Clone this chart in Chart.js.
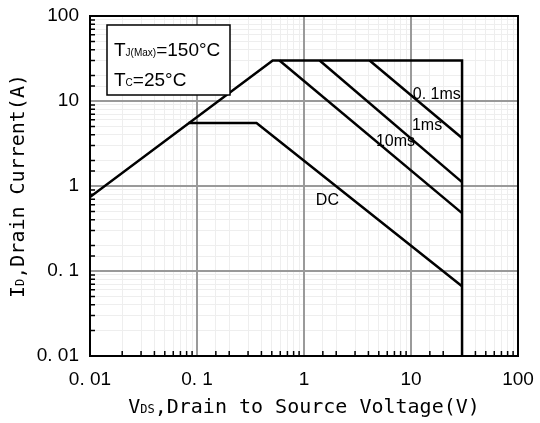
<!DOCTYPE html>
<html>
<head>
<meta charset="utf-8">
<title>Safe Operating Area</title>
<script src="https://cdn.jsdelivr.net/npm/chart.js@4.4.1/dist/chart.umd.min.js"></script>
<style>
  html, body { margin: 0; padding: 0; background: #fff; }
  #wrap { width: 540px; height: 423px; }
</style>
</head>
<body>
<div id="wrap"><canvas id="soaChart"></canvas></div>
<script>
// axis ticks
const xTickValues = [0.01, 0.1, 1, 10, 100];
const xTickLabels = ["0. 01", "0. 1", "1", "10", "100"];
const yTickValues = [0.01, 0.1, 1, 10, 100];
const yTickLabels = ["0. 01", "0. 1", "1", "10", "100"];

// outer limit: Rds(on) line, 30A max, 30V max
const limitV = [0.01, 0.51, 30, 30];
const limitI = [0.74, 30, 30, 0.01];

// pulse curves
const dcV = [0.083, 0.36, 30];
const dcI = [5.5, 5.5, 0.066];
const ms10V = [0.59, 30];
const ms10I = [30, 0.48];
const ms1V = [1.4, 30];
const ms1I = [30, 1.11];
const ms01V = [4.1, 30];
const ms01I = [30, 3.67];

// curve names and where they sit (V, A)
const curveNames = ["0. 1ms", "1ms", "10ms", "DC"];
const curveNameV = [10.4, 10.2, 4.7, 1.29];
const curveNameI = [11.8, 5.1, 3.3, 0.68];

const tickFont = "'Liberation Sans Narrow', 'Liberation Sans', sans-serif";
const titleFont = "'DejaVu Sans Mono', monospace";
const majorGrid = "#9a9a9a";
const minorGrid = "#eeeeee";

function toPoints(xs, ys) {
  return xs.map((x, i) => ({ x: x, y: ys[i] }));
}

function isDecade(v) {
  const l = Math.log10(v);
  return Math.abs(l - Math.round(l)) < 1e-6;
}

function lineSet(xs, ys) {
  return {
    data: toPoints(xs, ys),
    showLine: true,
    borderColor: "#000",
    borderWidth: 2.5,
    pointRadius: 0,
    fill: false,
  };
}

// draws text made of pieces, some smaller (subscripts)
function drawPieces(ctx, pieces, x, y, align) {
  let total = 0;
  pieces.forEach(p => { ctx.font = p.font; total += ctx.measureText(p.text).width; });
  let cx = align === "center" ? x - total / 2 : x;
  pieces.forEach(p => {
    ctx.font = p.font;
    ctx.fillText(p.text, cx, y);
    cx += ctx.measureText(p.text).width;
  });
}

const extrasPlugin = {
  id: "extras",
  beforeDatasetsDraw(chart) {
    // vertical decade lines again, so the light horizontal ones don't cut them
    const ctx = chart.ctx;
    const area = chart.chartArea;
    const xs = chart.scales.x;
    ctx.save();
    ctx.strokeStyle = majorGrid;
    ctx.lineWidth = 2;
    ctx.beginPath();
    xs.ticks.forEach(t => {
      if (!isDecade(t.value)) return;
      const px = xs.getPixelForValue(t.value);
      ctx.moveTo(px, area.top);
      ctx.lineTo(px, area.bottom);
    });
    ctx.stroke();
    ctx.restore();
  },
  afterDraw(chart) {
    const ctx = chart.ctx;
    const area = chart.chartArea;
    const xs = chart.scales.x;
    const ys = chart.scales.y;
    ctx.save();

    // frame
    ctx.strokeStyle = "#000";
    ctx.lineWidth = 2;
    ctx.strokeRect(area.left, area.top, area.right - area.left, area.bottom - area.top);

    // small inner ticks on bottom and left
    ctx.lineWidth = 1.5;
    ctx.beginPath();
    xs.ticks.forEach(t => {
      if (isDecade(t.value)) return;
      const px = xs.getPixelForValue(t.value);
      ctx.moveTo(px, area.bottom);
      ctx.lineTo(px, area.bottom - 5);
    });
    ys.ticks.forEach(t => {
      if (isDecade(t.value)) return;
      const py = ys.getPixelForValue(t.value);
      ctx.moveTo(area.left, py);
      ctx.lineTo(area.left + 5, py);
    });
    ctx.stroke();

    // condition box
    ctx.fillStyle = "#fff";
    ctx.fillRect(107, 25, 123, 70);
    ctx.lineWidth = 1.5;
    ctx.strokeRect(107, 25, 123, 70);
    ctx.fillStyle = "#000";
    ctx.textBaseline = "alphabetic";
    ctx.textAlign = "left";
    const big = "19px 'Liberation Sans', sans-serif";
    const small = "10px 'Liberation Sans', sans-serif";
    drawPieces(ctx, [
      { text: "T", font: big }, { text: "J(Max)", font: small }, { text: "=150°C", font: big }
    ], 114, 56, "left");
    drawPieces(ctx, [
      { text: "T", font: big }, { text: "C", font: small }, { text: "=25°C", font: big }
    ], 114, 86, "left");

    // curve names
    ctx.font = "16px " + tickFont;
    ctx.textBaseline = "middle";
    curveNames.forEach((name, i) => {
      ctx.fillText(name, xs.getPixelForValue(curveNameV[i]), ys.getPixelForValue(curveNameI[i]));
    });

    // axis titles
    ctx.textBaseline = "alphabetic";
    const tBig = "20px " + titleFont;
    const tSmall = "12px " + titleFont;
    drawPieces(ctx, [
      { text: "V", font: tBig }, { text: "DS", font: tSmall }, { text: ",Drain to Source Voltage(V)", font: tBig }
    ], (area.left + area.right) / 2, 413, "center");

    ctx.translate(24, (area.top + area.bottom) / 2);
    ctx.rotate(-Math.PI / 2);
    drawPieces(ctx, [
      { text: "I", font: tBig }, { text: "D", font: tSmall }, { text: ",Drain Current(A)", font: tBig }
    ], 0, 0, "center");

    ctx.restore();
  }
};

document.addEventListener("DOMContentLoaded", function () {
  const ctx = document.getElementById("soaChart").getContext("2d");

  new Chart(ctx, {
    type: "scatter",
    data: {
      datasets: [
        lineSet(limitV, limitI),
        lineSet(dcV, dcI),
        lineSet(ms10V, ms10I),
        lineSet(ms1V, ms1I),
        lineSet(ms01V, ms01I),
      ],
    },
    options: {
      responsive: true,
      maintainAspectRatio: false,
      animation: false,
      layout: { padding: { top: 16, right: 22, left: 0, bottom: 0 } },
      plugins: {
        legend: { display: false },
        tooltip: { enabled: false },
      },
      scales: {
        x: {
          type: "logarithmic",
          min: 0.01,
          max: 100,
          // fixed axis height, labels may overflow sideways
          afterFit: s => { s.height = 67; s.paddingLeft = 0; s.paddingRight = 0; },
          border: { display: true, color: "#000", width: 2 },
          grid: {
            drawTicks: false,
            color: c => (c.tick && isDecade(c.tick.value) ? majorGrid : minorGrid),
            lineWidth: c => (c.tick && isDecade(c.tick.value) ? 2 : 1),
          },
          ticks: {
            autoSkip: false,
            maxRotation: 0,
            padding: 12,
            color: "#000",
            font: { family: tickFont, size: 19 },
            callback: v => {
              const i = xTickValues.findIndex(t => Math.abs(t - v) < v * 1e-6);
              return i >= 0 ? xTickLabels[i] : "";
            },
          },
        },
        y: {
          type: "logarithmic",
          min: 0.01,
          max: 100,
          afterFit: s => { s.width = 90; s.paddingTop = 0; s.paddingBottom = 0; },
          border: { display: true, color: "#000", width: 2 },
          grid: {
            drawTicks: false,
            color: c => (c.tick && isDecade(c.tick.value) ? majorGrid : minorGrid),
            lineWidth: c => (c.tick && isDecade(c.tick.value) ? 2 : 1),
          },
          ticks: {
            autoSkip: false,
            padding: 11,
            color: "#000",
            font: { family: tickFont, size: 19 },
            callback: v => {
              const i = yTickValues.findIndex(t => Math.abs(t - v) < v * 1e-6);
              return i >= 0 ? yTickLabels[i] : "";
            },
          },
        },
      },
    },
    plugins: [extrasPlugin],
  });
});
</script>
</body>
</html>
